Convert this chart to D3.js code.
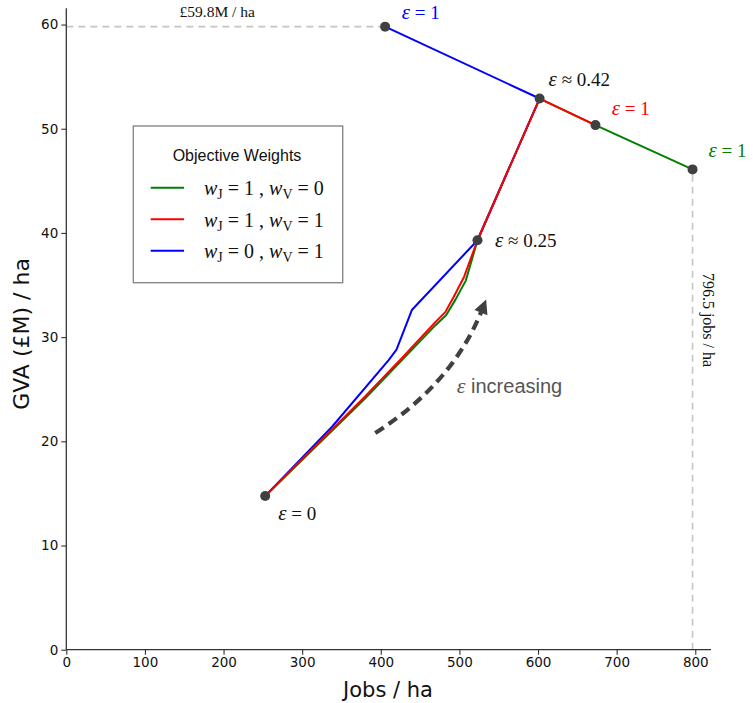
<!DOCTYPE html>
<html>
<head>
<meta charset="utf-8">
<script src="https://cdn.jsdelivr.net/npm/d3@7"></script>
<style>
html,body{margin:0;padding:0;background:#fff;}
svg{display:block;}
</style>
</head>
<body>
<svg id="chart" width="753" height="703"></svg>
<script>
// ---- data ----
const jobsGreen = [253, 380, 469, 483, 495, 508, 523, 602, 673, 796.5];
const gvaGreen  = [14.75, 24.1, 31.1, 32.1, 33.6, 35.4, 39.3, 52.9, 50.35, 46.1];
const jobsRed   = [253, 380, 427, 469, 482, 493, 506, 523, 602, 673];
const gvaRed    = [14.75, 24.3, 28.0, 31.4, 32.4, 33.9, 35.8, 39.3, 52.9, 50.35];
const jobsBlue  = [253, 338, 410, 420, 439.5, 523, 602, 405.5];
const gvaBlue   = [14.75, 21.4, 27.8, 28.8, 32.6, 39.3, 52.9, 59.8];

const markerJobs   = [253, 523, 602, 405.5, 673, 796.5];
const markerGva    = [14.75, 39.3, 52.9, 59.8, 50.35, 46.1];
const markerSymbol = ["=", "≈", "≈", "=", "=", "="];
const markerValue  = ["0", "0.25", "0.42", "1", "1", "1"];

const xTicks = [0, 100, 200, 300, 400, 500, 600, 700, 800];
const yTicks = [0, 10, 20, 30, 40, 50, 60];

const legendTitle = "Objective Weights";
const legendWJ = ["1", "1", "0"];
const legendWV = ["0", "1", "1"];

const maxGvaLabel = "£59.8M / ha";
const maxJobsLabel = "796.5 jobs / ha";
const maxGva = 59.8, maxGvaJobs = 405.5;
const maxJobs = 796.5, maxJobsGva = 46.1;

// arrow annotation (data coords): tail, control, head
const arrowJobs = [393, 491, 534];
const arrowGva  = [20.8, 25.5, 33.6];

// ---- styles ----
const colGreen = "#008000", colRed = "#ff0000", colBlue = "#0000ff";
const serif = "'Liberation Serif','Times New Roman',serif";
const sans = "'Liberation Sans',Arial,sans-serif";
const dvs = "'DejaVu Sans',sans-serif";

const svg = d3.select("#chart");
const x = d3.scaleLinear().domain([0, 820]).range([66.3, 711]);
const y = d3.scaleLinear().domain([0, 61.56]).range([649.7, 8.3]);

// guide dashed lines
svg.append("line")
  .attr("x1", x(0)).attr("x2", x(maxGvaJobs))
  .attr("y1", y(maxGva)).attr("y2", y(maxGva))
  .attr("stroke", "#c4c4c4").attr("stroke-width", 1.6).attr("stroke-dasharray", "7,5");
svg.append("line")
  .attr("x1", x(maxJobs)).attr("x2", x(maxJobs))
  .attr("y1", y(0)).attr("y2", y(maxJobsGva))
  .attr("stroke", "#c4c4c4").attr("stroke-width", 1.6).attr("stroke-dasharray", "7,5");

// axes
const xAxis = d3.axisBottom(x).tickValues(xTicks).tickSize(5).tickPadding(3);
const yAxis = d3.axisLeft(y).tickValues(yTicks).tickSize(5).tickPadding(3);
const gx = svg.append("g").attr("transform", `translate(0,${y(0)})`).call(xAxis);
const gy = svg.append("g").attr("transform", `translate(${x(0)},0)`).call(yAxis);
[gx, gy].forEach(g => {
  g.select(".domain").attr("stroke", "#333").attr("stroke-width", 1.3);
  g.selectAll(".tick line").attr("stroke", "#333").attr("stroke-width", 1.1);
  g.selectAll(".tick text").attr("font-family", dvs).attr("font-size", 13.5).attr("fill", "#111");
});
gx.select(".domain").attr("d", `M${x(0)},0H${x(820)}`);
gy.select(".domain").attr("d", `M0,${y(0)}V${y(61.56)}`);

svg.append("text").attr("x", 388).attr("y", 697)
  .attr("text-anchor", "middle").attr("font-family", dvs).attr("font-size", 21)
  .attr("fill", "#111").text("Jobs / ha");
svg.append("text").attr("transform", "translate(29,334) rotate(-90)")
  .attr("text-anchor", "middle").attr("font-family", dvs).attr("font-size", 22)
  .attr("fill", "#111").text("GVA (£M) / ha");

// lines
const line = d3.line().x(d => x(d[0])).y(d => y(d[1]));
const series = [
  {xs: jobsGreen, ys: gvaGreen, c: colGreen},
  {xs: jobsBlue, ys: gvaBlue, c: colBlue},
  {xs: jobsRed, ys: gvaRed, c: colRed}
];
series.forEach(s => {
  svg.append("path").datum(d3.zip(s.xs, s.ys)).attr("d", line)
    .attr("fill", "none").attr("stroke", s.c).attr("stroke-width", 2)
    .attr("stroke-linejoin", "round");
});

// markers
const markers = d3.zip(markerJobs, markerGva);
svg.selectAll("circle.m").data(markers).join("circle")
  .attr("cx", d => x(d[0])).attr("cy", d => y(d[1])).attr("r", 5)
  .attr("fill", "#404040");

// marker labels (offsets in px)
const labelOff = [[13, 24], [17.5, 7], [9, -13], [16.7, -8], [16.4, -10], [16, -12]];
const labelCol = ["#111", "#111", "#111", colBlue, colRed, colGreen];
markers.forEach((d, i) => {
  const t = svg.append("text")
    .attr("x", x(d[0]) + labelOff[i][0]).attr("y", y(d[1]) + labelOff[i][1])
    .attr("font-family", serif).attr("font-size", 19).attr("fill", labelCol[i]);
  t.append("tspan").attr("font-style", "italic").attr("font-size", 21).text("ε");
  t.append("tspan").text(" " + markerSymbol[i] + " " + markerValue[i]);
});

// guide labels
svg.append("text").attr("x", x(192)).attr("y", y(60.75))
  .attr("text-anchor", "middle").attr("font-family", serif).attr("font-size", 15.5)
  .attr("fill", "#111").text(maxGvaLabel);
svg.append("text").attr("transform", `translate(${x(maxJobs) + 10},320) rotate(90)`)
  .attr("text-anchor", "middle").attr("font-family", serif).attr("font-size", 16)
  .attr("fill", "#111").text(maxJobsLabel);

// arrow
const p0 = [x(arrowJobs[0]), y(arrowGva[0])];
const pc = [x(arrowJobs[1]), y(arrowGva[1])];
const p2 = [x(arrowJobs[2]), y(arrowGva[2])];
const dir = [p2[0] - pc[0], p2[1] - pc[1]];
const dl = Math.hypot(dir[0], dir[1]);
const u = [dir[0] / dl, dir[1] / dl];
const headLen = 14, headW = 7;
const shaftEnd = [p2[0] - u[0] * headLen * 0.8, p2[1] - u[1] * headLen * 0.8];
const ap = d3.path();
ap.moveTo(p0[0], p0[1]);
ap.quadraticCurveTo(pc[0], pc[1], shaftEnd[0], shaftEnd[1]);
svg.append("path").attr("d", ap.toString()).attr("fill", "none")
  .attr("stroke", "#404040").attr("stroke-width", 4.2).attr("stroke-dasharray", "10,6");
const base = [p2[0] - u[0] * headLen, p2[1] - u[1] * headLen];
const nrm = [-u[1], u[0]];
svg.append("path")
  .attr("d", `M${p2[0]},${p2[1]}L${base[0] + nrm[0] * headW},${base[1] + nrm[1] * headW}L${base[0] - nrm[0] * headW},${base[1] - nrm[1] * headW}Z`)
  .attr("fill", "#404040");

const inc = svg.append("text").attr("x", x(496.7)).attr("y", y(24.6))
  .attr("font-size", 20).attr("fill", "#555");
inc.append("tspan").attr("font-family", serif).attr("font-style", "italic").attr("font-size", 22).text("ε");
inc.append("tspan").attr("font-family", sans).text(" increasing");

// legend
const lg = svg.append("g");
lg.append("rect").attr("x", 133.3).attr("y", 126).attr("width", 209.4).attr("height", 156.7)
  .attr("fill", "#fff").attr("stroke", "#888").attr("stroke-width", 1.4);
lg.append("text").attr("x", 237).attr("y", 161).attr("text-anchor", "middle")
  .attr("font-family", sans).attr("font-size", 16).attr("fill", "#111").text(legendTitle);
const legCols = [colGreen, colRed, colBlue];
legCols.forEach((c, i) => {
  const ly = 187.7 + i * 31.5;
  lg.append("line").attr("x1", 150.7).attr("x2", 184).attr("y1", ly).attr("y2", ly)
    .attr("stroke", c).attr("stroke-width", 2);
  const t = lg.append("text").attr("x", 204).attr("y", ly + 7.5)
    .attr("font-family", serif).attr("font-size", 20).attr("fill", "#111");
  t.append("tspan").attr("font-style", "italic").text("w");
  t.append("tspan").attr("font-size", 14).attr("dy", 4).text("J");
  t.append("tspan").attr("dy", -4).text(" = " + legendWJ[i] + " , ");
  t.append("tspan").attr("font-style", "italic").text("w");
  t.append("tspan").attr("font-size", 14).attr("dy", 4).text("V");
  t.append("tspan").attr("dy", -4).text(" = " + legendWV[i]);
});
</script>
</body>
</html>
